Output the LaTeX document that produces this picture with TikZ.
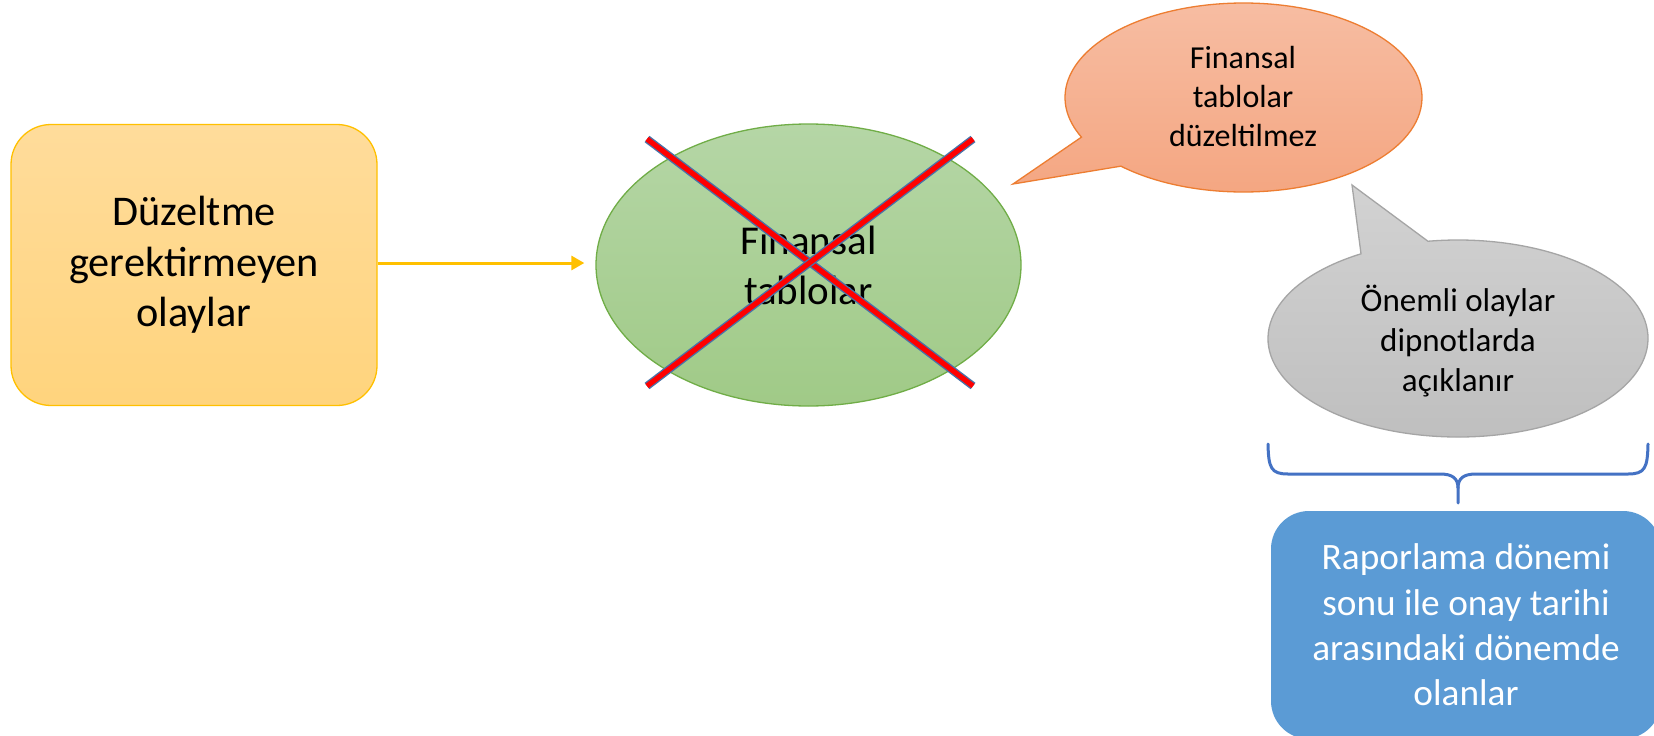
\documentclass[tikz,border=0pt]{standalone}
\usepackage{fontspec}
\setmainfont{Carlito}
\usetikzlibrary{shapes.geometric,arrows.meta}
\definecolor{yBorder}{HTML}{FFC000}
\definecolor{yTop}{HTML}{FFDC9B}
\definecolor{yBot}{HTML}{FFD47D}
\definecolor{gBorder}{HTML}{70AD47}
\definecolor{gTop}{HTML}{B5D6A6}
\definecolor{gBot}{HTML}{A0CA87}
\definecolor{oBorder}{HTML}{ED7D31}
\definecolor{oTop}{HTML}{F7BEA4}
\definecolor{oBot}{HTML}{F4A580}
\definecolor{grBorder}{HTML}{A5A5A5}
\definecolor{grTop}{HTML}{D2D2D2}
\definecolor{grBot}{HTML}{BEBEBE}
\definecolor{bFill}{HTML}{5B9BD5}
\definecolor{braceCol}{HTML}{4472C4}
\definecolor{xEdge}{HTML}{4A72A8}
\begin{document}
\begin{tikzpicture}[x=1pt,y=1pt,
  ybox/.style={draw=yBorder, line width=1.3pt, rounded corners=40pt,
    top color=yTop, bottom color=yBot, minimum width=366pt, minimum height=281pt,
    inner sep=0pt, align=center, font=\fontsize{42.3}{50.5}\selectfont},
  gell/.style={ellipse, draw=gBorder, line width=1.3pt, top color=gTop, bottom color=gBot,
    minimum width=425pt, minimum height=282pt, inner sep=0pt, align=center,
    font=\fontsize{41}{50}\selectfont},
  ocall/.style={draw=oBorder, line width=1.3pt, top color=oTop, bottom color=oBot},
  grcall/.style={draw=grBorder, line width=1.3pt, top color=grTop, bottom color=grBot},
  ctext/.style={align=center, inner sep=0pt, font=\fontsize{32}{39}\selectfont},
  gtextstyle/.style={align=center, inner sep=0pt, font=\fontsize{33}{40}\selectfont},
  bbox/.style={fill=bFill, rounded corners=38pt, minimum width=390pt, minimum height=228pt,
    inner sep=0pt, align=center, text=white, font=\fontsize{37.3}{45.3}\selectfont},
  yarrow/.style={draw=yBorder, line width=3pt, -{Triangle[length=13pt,width=14pt]}},
  xout/.style={draw=xEdge, line width=8pt, line cap=butt},
  xin/.style={draw=red, line width=5.2pt, line cap=butt},
  bracepath/.style={draw=braceCol, line width=3pt, line cap=round, line join=round}
]
\useasboundingbox (0,0) rectangle (1654,-736);
\fill[white] (0,0) rectangle (1654,-736);

% left box
\node[ybox] (dz) at (194,-265) {Düzeltme\\gerektirmeyen\\olaylar};

% green ellipse
\node[gell] (ft) at (808.5,-265) {Finansal\\tablolar};

% arrow
\draw[yarrow, shorten >=11pt] (dz.east |- 0,-263) -- (ft.west |- 0,-263);

% red cross
\coordinate (xtl) at (647,-139);
\coordinate (xbr) at (973,-386);
\coordinate (xbl) at (647,-386);
\coordinate (xtr) at (973,-139);
\draw[xout] (xtl) -- (xbr);
\draw[xin] (xtl) -- (xbr);
\draw[xout] (xbl) -- (xtr);
\draw[xin] (xbl) -- (xtr);

% orange callout
\coordinate (oc) at (1243.5,-97.5);
\coordinate (otip) at (1013,-184);
\path[ocall] (oc) ++(226.6:178.5 and 94.5)
  arc[start angle=226.6, end angle=564.8, x radius=178.5, y radius=94.5]
  -- (otip) -- cycle;
\node[ctext] (otext) at (1243,-97) {Finansal\\tablolar\\düzeltilmez};

% grey callout
\coordinate (gc) at (1458,-338.5);
\coordinate (gtip) at (1352,-185);
\path[grcall] (gc) ++(120.7:190 and 98.5)
  arc[start angle=120.7, end angle=459.1, x radius=190, y radius=98.5]
  -- (gtip) -- cycle;
\node[gtextstyle] (gtext) at (1458,-341) {Önemli olaylar\\dipnotlarda\\açıklanır};

% brace
\coordinate (brL) at (1268,-444);
\coordinate (brR) at (1648,-444);
\coordinate (brM) at (1458,-488);
\coordinate (brB) at (1458,-503);
\draw[bracepath] (brL) .. controls (1268.5,-468) and (1271,-474) .. (1288,-474)
  -- (1440,-474) .. controls (1452,-474) and (1458,-478) .. (brM) -- (brB);
\draw[bracepath] (brR) .. controls (1647.5,-468) and (1645,-474) .. (1628,-474)
  -- (1476,-474) .. controls (1464,-474) and (1458,-478) .. (brM);

% blue box
\node[bbox] (rp) at (1466,-625) {Raporlama dönemi\\sonu ile onay tarihi\\arasındaki dönemde\\olanlar};
\end{tikzpicture}
\end{document}
